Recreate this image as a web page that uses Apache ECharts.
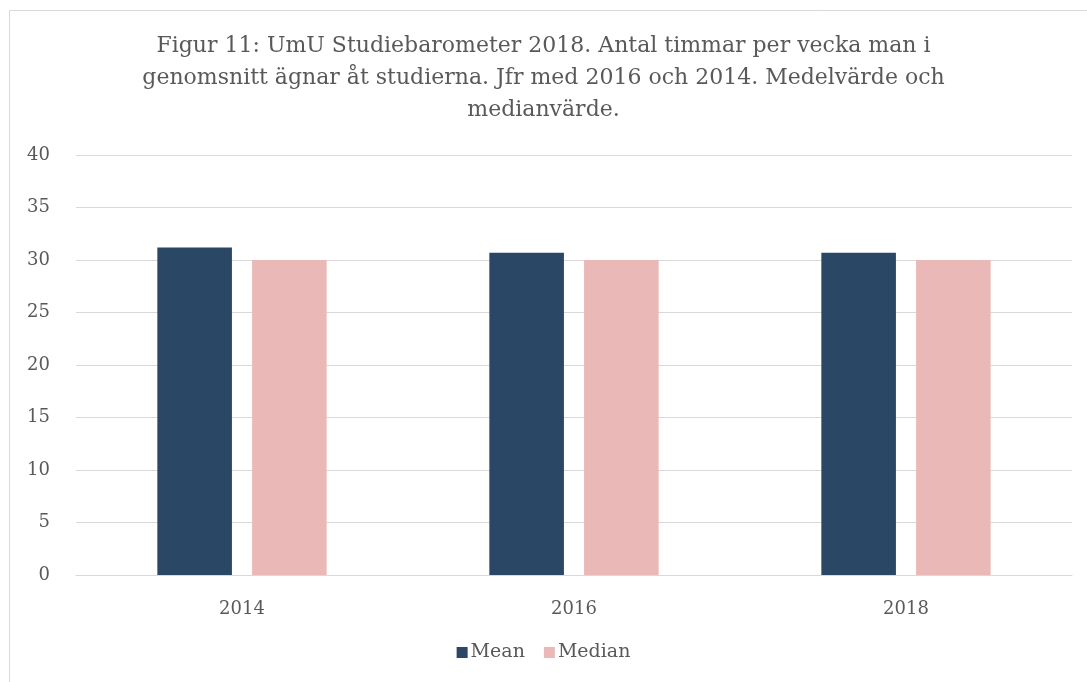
<!DOCTYPE html>
<html lang="sv">
<head>
    <meta charset="UTF-8">
    <title>Figur 11</title>
    <script src="https://cdn.jsdelivr.net/npm/echarts@6/dist/echarts.min.js"></script>
    <style>
        html, body { margin: 0; padding: 0; background: #fff; }
        #chart { width: 1087px; height: 682px; }
    </style>
</head>
<body>
<div id="chart"></div>
<script>
    // data
    var years = ['2014', '2016', '2018'];
    var meanValues = [31.2, 30.7, 30.7];
    var medianValues = [30, 30, 30];
    var titleText = 'Figur 11: UmU Studiebarometer 2018. Antal timmar per vecka man i\ngenomsnitt ägnar åt studierna. Jfr med 2016 och 2014. Medelvärde och\nmedianvärde.';

    var font = 'DejaVu Serif';
    var chart = echarts.init(document.getElementById('chart'));

    var option = {
        animation: false,
        backgroundColor: '#fff',
        graphic: [{
            type: 'rect',
            shape: { x: 9.5, y: 10.5, width: 1100, height: 700 },
            style: { fill: 'none', stroke: '#d9d9d9', lineWidth: 1 },
            silent: true
        }],
        title: {
            text: titleText,
            left: 'center',
            top: 25,
            textStyle: {
                fontFamily: font,
                fontWeight: 'normal',
                fontSize: 22,
                lineHeight: 32,
                color: '#595959'
            }
        },
        legend: {
            data: ['Mean', 'Median'],
            bottom: 15,
            left: 'center',
            icon: 'rect',
            itemWidth: 11,
            itemHeight: 11,
            itemGap: 19,
            textStyle: { fontFamily: font, fontSize: 19, color: '#595959', padding: [0, 0, 0, -2] }
        },
        grid: {
            left: 76,
            right: 15,
            top: 155,
            bottom: 107
        },
        xAxis: {
            type: 'category',
            data: years,
            axisTick: { show: false },
            axisLine: { lineStyle: { color: '#d9d9d9' } },
            axisLabel: { fontFamily: font, fontSize: 18, color: '#595959', margin: 25 }
        },
        yAxis: {
            type: 'value',
            min: 0,
            max: 40,
            interval: 5,
            axisLine: { show: false },
            axisTick: { show: false },
            splitLine: { lineStyle: { color: '#d9d9d9' } },
            axisLabel: { fontFamily: font, fontSize: 18, color: '#595959', margin: 26 }
        },
        series: [
            {
                name: 'Mean',
                type: 'bar',
                data: meanValues,
                barGap: '27%',
                barCategoryGap: '49%',
                itemStyle: { color: '#2a4765' }
            },
            {
                name: 'Median',
                type: 'bar',
                data: medianValues,
                itemStyle: { color: '#eab9b7' }
            }
        ]
    };

    chart.setOption(option);
</script>
</body>
</html>
